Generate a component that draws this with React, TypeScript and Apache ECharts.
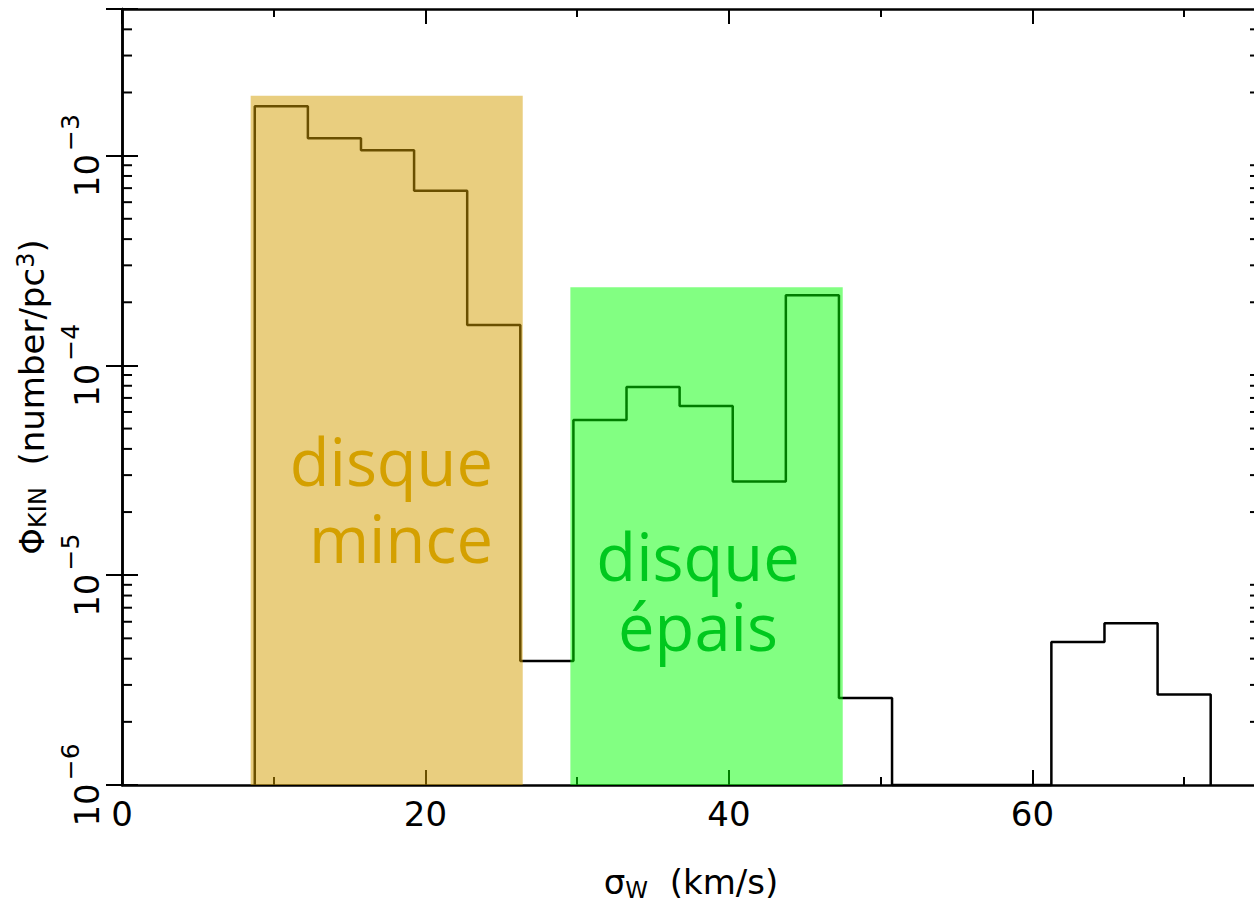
import React, { useEffect, useRef } from "react";
import * as echarts from "echarts";

// ---- data ----
const binEdges: number[] = [8.75, 12.25, 15.75, 19.25, 22.75, 26.25, 29.75, 33.25, 36.75, 40.25, 43.75, 47.25, 50.75, 54.25, 57.75, 61.25, 64.75, 68.25, 71.75];
const binValues: (number | null)[] = [1.72e-3, 1.21e-3, 1.06e-3, 6.8e-4, 1.56e-4, 3.9e-6, 5.5e-5, 7.9e-5, 6.4e-5, 2.8e-5, 2.16e-4, 2.6e-6, null, null, null, 4.8e-6, 5.9e-6, 2.7e-6];

const xMin = 0;
const xMax = 75;
const yMin = 1e-6;
const yMax = 5e-3;

const regionNames = ["disque mince", "disque épais"];
const regionX0 = [8.48, 29.55];
const regionX1 = [26.41, 47.5];
const regionTop = [1.93e-3, 2.36e-4];
const regionFill = ["rgba(212,158,0,0.5)", "rgba(0,255,0,0.49)"];
const regionLabels = ["disque\nmince", "disque\népais"];

const minorMantissas = [2, 3, 4, 5, 6, 7, 8, 9];
const decades = [1e-6, 1e-5, 1e-4, 1e-3];

const axisFont = "'DejaVu Sans', 'Liberation Sans', Arial, sans-serif";
const annoFont = "'Open Sans', 'DejaVu Sans', sans-serif";

export default function App() {
  const ref = useRef<HTMLDivElement>(null);
  useEffect(() => {
    if (!ref.current) return;
    const chart = echarts.init(ref.current, undefined, { renderer: "svg" });

    const histPts: number[][] = [[binEdges[0], yMin]];
    binValues.forEach((v, i) => {
      const y = v == null ? yMin : v;
      histPts.push([binEdges[i], y]);
      histPts.push([binEdges[i + 1], y]);
    });
    histPts.push([binEdges[binEdges.length - 1], yMin]);

    const minorVals: number[][] = [];
    decades.forEach((d) => minorMantissas.forEach((m) => {
      const v = m * d;
      if (v < yMax) minorVals.push([xMin, v]);
    }));

    const regionData = regionNames.map((_, i) => [regionX0[i], regionX1[i], regionTop[i], i]);

    const yLabelFmt = (value: number) => {
      const l = Math.log10(value);
      const e = Math.round(l);
      if (Math.abs(l - e) > 1e-6) return "";
      return `{b|10}{e|\u2212${Math.abs(e)}}`;
    };

    const logAxisBase = {
      type: "log" as const,
      logBase: 10,
      min: yMin,
      max: yMax,
      axisLine: { show: true, lineStyle: { color: "#000", width: 2.5 } },
      axisTick: { show: true, inside: true, length: 16, lineStyle: { color: "#000", width: 2 } },
      splitLine: { show: false },
      minorSplitLine: { show: false },
    };
    const xAxisBase = {
      type: "value" as const,
      min: xMin,
      max: xMax,
      interval: 20,
      axisLine: { show: true, lineStyle: { color: "#000", width: 2.5 } },
      axisTick: { show: true, inside: true, length: 15, lineStyle: { color: "#000", width: 2 } },
      minorTick: { show: true, splitNumber: 2, length: 8, lineStyle: { color: "#000", width: 2 } },
      splitLine: { show: false },
      minorSplitLine: { show: false },
    };

    chart.setOption({
      animation: false,
      backgroundColor: "#fff",
      grid: { left: 122, top: 9, width: 1138, height: 776, containLabel: false },
      xAxis: [
        {
          ...xAxisBase,
          position: "bottom",
          axisLabel: {
            show: true,
            margin: 12,
            fontSize: 34,
            fontFamily: axisFont,
            color: "#000",
            formatter: (v: number) => (v % 20 === 0 ? String(v) : ""),
          },
          name: "{a|\u03c3}{s|W}{a|  (km/s)}",
          nameLocation: "middle",
          nameGap: 80,
          nameTextStyle: {
            rich: {
              a: { fontSize: 34, fontFamily: axisFont, color: "#000", lineHeight: 36, verticalAlign: "top" },
              s: { fontSize: 23, fontFamily: axisFont, color: "#000", lineHeight: 23, padding: [24, 0, 0, 0], verticalAlign: "bottom" },
            },
          },
        },
        { ...xAxisBase, position: "top", axisLabel: { show: false } },
      ],
      yAxis: [
        {
          ...logAxisBase,
          position: "left",
          axisLabel: {
            show: true,
            rotate: 90,
            margin: 18,
            formatter: yLabelFmt,
            rich: {
              b: { fontSize: 34, fontFamily: axisFont, color: "#000", lineHeight: 46, verticalAlign: "bottom" },
              e: { fontSize: 25, fontFamily: axisFont, color: "#000", lineHeight: 25, verticalAlign: "top", padding: [0, 0, 0, 3] },
            },
          },
          name: "{a|\u03a6}{s|KIN}{a|  (number/pc}{p|3}{a|)}",
          nameLocation: "middle",
          nameRotate: 90,
          nameGap: 64,
          nameTextStyle: {
            rich: {
              a: { fontSize: 34, fontFamily: axisFont, color: "#000", lineHeight: 36, verticalAlign: "middle" },
              s: { fontSize: 24, fontFamily: axisFont, color: "#000", lineHeight: 24, verticalAlign: "bottom" },
              p: { fontSize: 24, fontFamily: axisFont, color: "#000", lineHeight: 24, verticalAlign: "top" },
            },
          },
        },
        { ...logAxisBase, position: "right", axisLabel: { show: false } },
      ],
      series: [
        {
          type: "line",
          data: histPts,
          showSymbol: false,
          symbol: "none",
          lineStyle: { color: "#000", width: 2.5 },
          z: 2,
          clip: false,
        },
        {
          type: "custom",
          data: regionData,
          encode: { x: [0, 1], y: 2 },
          z: 3,
          renderItem: (params: any, api: any) => {
            const i = api.value(3);
            const p0 = api.coord([api.value(0), api.value(2)]);
            const p1 = api.coord([api.value(1), yMin]);
            return {
              type: "rect",
              shape: { x: p0[0], y: p0[1], width: p1[0] - p0[0], height: p1[1] - p0[1] },
              style: { fill: regionFill[i] },
            };
          },
        },
        {
          type: "custom",
          data: minorVals,
          encode: { x: 0, y: 1 },
          z: 4,
          renderItem: (params: any, api: any) => {
            const cs = params.coordSys;
            const p = api.coord([xMin, api.value(1)]);
            const y = p[1];
            return {
              type: "group",
              children: [
                { type: "line", shape: { x1: cs.x, y1: y, x2: cs.x + 10, y2: y }, style: { stroke: "#000", lineWidth: 2 } },
                { type: "line", shape: { x1: cs.x + cs.width - 10, y1: y, x2: cs.x + cs.width, y2: y }, style: { stroke: "#000", lineWidth: 2 } },
              ],
            };
          },
        },
      ],
      graphic: [
        { type: "text", x: 493, y: 499, z: 10, style: { text: regionLabels[0], fill: "#D4A000", fontSize: 65, lineHeight: 77, fontFamily: annoFont, verticalAlign: "middle", align: "right" } },
        { type: "text", x: 698, y: 591, z: 10, style: { text: regionLabels[1], fill: "#00C81E", fontSize: 65, lineHeight: 70, fontFamily: annoFont, verticalAlign: "middle", align: "center" } },
      ],
    });
    return () => chart.dispose();
  }, []);

  return (
    <div style={{ position: "fixed", left: 0, top: 0, width: 1254, height: 910, overflow: "hidden", background: "#fff" }}>
      <div ref={ref} style={{ width: 1270, height: 910 }} />
    </div>
  );
}
